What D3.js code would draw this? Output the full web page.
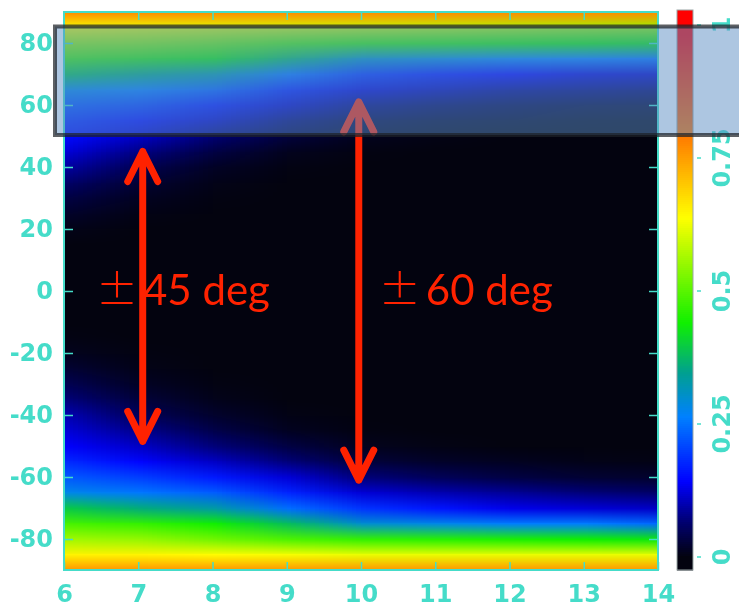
<!DOCTYPE html>
<html>
<head>
<meta charset="utf-8">
<script src="https://cdn.jsdelivr.net/npm/d3@7"></script>
<style>
  body { margin: 0; background: #fff; }
  #wrap { position: relative; width: 739px; height: 605px; }
  #wrap canvas, #wrap svg { position: absolute; left: 0; top: 0; }
</style>
</head>
<body>
<div id="wrap">
  <canvas id="heat" width="739" height="605"></canvas>
  <svg id="chart" width="739" height="605"></svg>
</div>
<script>
// grid columns (x) and rows (latitude, deg)
const xCols = [6, 7, 8, 9, 10, 11, 12, 13, 14]
const latRows = [90, 85, 80, 75, 70, 65, 60, 55, 50, 45, 40, 35, 30, 25, 20, 15, 10, 5, 0,
                 -5, -10, -15, -20, -25, -30, -35, -40, -45, -50, -55, -60, -65, -70, -75, -80, -85, -90]

// values, one row per latitude, one entry per x column
const values = [
  [0.77, 0.77, 0.77, 0.77, 0.77, 0.77, 0.77, 0.77, 0.77],
  [0.63, 0.62, 0.61, 0.60, 0.59, 0.58, 0.57, 0.56, 0.55],
  [0.55, 0.54, 0.52, 0.49, 0.47, 0.46, 0.45, 0.44, 0.43],
  [0.48, 0.46, 0.44, 0.38, 0.31, 0.29, 0.27, 0.26, 0.25],
  [0.39, 0.36, 0.33, 0.25, 0.19, 0.16, 0.14, 0.12, 0.11],
  [0.28, 0.26, 0.23, 0.17, 0.12, 0.10, 0.08, 0.07, 0.06],
  [0.22, 0.20, 0.16, 0.11, 0.07, 0.05, 0.035, 0.025, 0.02],
  [0.18, 0.15, 0.11, 0.065, 0.03, 0.018, 0.012, 0.006, 0.004],
  [0.15, 0.11, 0.065, 0.03, 0.01, 0.004, 0, 0, 0],
  [0.12, 0.075, 0.035, 0.01, 0.002, 0, 0, 0, 0],
  [0.09, 0.045, 0.015, 0.003, 0, 0, 0, 0, 0],
  [0.06, 0.025, 0.006, 0, 0, 0, 0, 0, 0],
  [0.035, 0.012, 0.002, 0, 0, 0, 0, 0, 0],
  [0.018, 0.004, 0, 0, 0, 0, 0, 0, 0],
  [0.006, 0, 0, 0, 0, 0, 0, 0, 0],
  [0, 0, 0, 0, 0, 0, 0, 0, 0],
  [0, 0, 0, 0, 0, 0, 0, 0, 0],
  [0, 0, 0, 0, 0, 0, 0, 0, 0],
  [0, 0, 0, 0, 0, 0, 0, 0, 0],
  [0, 0, 0, 0, 0, 0, 0, 0, 0],
  [0, 0, 0, 0, 0, 0, 0, 0, 0],
  [0.003, 0, 0, 0, 0, 0, 0, 0, 0],
  [0.01, 0.002, 0, 0, 0, 0, 0, 0, 0],
  [0.025, 0.006, 0, 0, 0, 0, 0, 0, 0],
  [0.045, 0.015, 0.003, 0, 0, 0, 0, 0, 0],
  [0.07, 0.03, 0.008, 0, 0, 0, 0, 0, 0],
  [0.10, 0.05, 0.02, 0.004, 0, 0, 0, 0, 0],
  [0.12, 0.08, 0.04, 0.012, 0.002, 0, 0, 0, 0],
  [0.14, 0.11, 0.07, 0.035, 0.01, 0.004, 0, 0, 0],
  [0.18, 0.145, 0.11, 0.07, 0.03, 0.018, 0.012, 0.006, 0.004],
  [0.225, 0.20, 0.165, 0.12, 0.07, 0.05, 0.035, 0.025, 0.02],
  [0.28, 0.255, 0.23, 0.175, 0.12, 0.10, 0.085, 0.07, 0.06],
  [0.395, 0.36, 0.33, 0.245, 0.19, 0.16, 0.13, 0.12, 0.11],
  [0.485, 0.47, 0.44, 0.38, 0.30, 0.28, 0.26, 0.26, 0.24],
  [0.56, 0.55, 0.52, 0.49, 0.47, 0.46, 0.45, 0.44, 0.43],
  [0.65, 0.65, 0.64, 0.63, 0.62, 0.62, 0.62, 0.62, 0.62],
  [0.76, 0.76, 0.76, 0.76, 0.76, 0.76, 0.76, 0.76, 0.76]
]

const xTicks = [6, 7, 8, 9, 10, 11, 12, 13, 14]
const yTicks = [-80, -60, -40, -20, 0, 20, 40, 60, 80]
const cbTicks = [0, 0.25, 0.5, 0.75, 1]
const cbTickLabels = ['0', '0.25', '0.5', '0.75', '1']

// colormap
const cmapStops = [0, 0.064, 0.141, 0.263, 0.346, 0.44, 0.637, 0.784, 0.98]
const cmapColors = ['#03030f', '#00006e', '#0000ff', '#0080ff', '#00a090', '#10f000', '#ffff00', '#ff8000', '#ff0000']

// annotations (data units)
const arrows = [
  {x: 7.06, top: 45, bottom: -48.5},
  {x: 9.97, top: 61, bottom: -61}
]
const notes = [
  {x: 6.43, lat: -4.5, sign: '±', text: '45 deg'},
  {x: 10.24, lat: -4.5, sign: '±', text: '60 deg'}
]

const W = 739, H = 605
const margin = {top: 12, right: 81, bottom: 35, left: 64}
const tq = '#45dcc9'

const x = d3.scaleLinear().domain([6, 14]).range([margin.left, W - margin.right])
const y = d3.scaleLinear().domain([-90, 90]).range([H - margin.bottom, margin.top])
const color = d3.scaleLinear().domain(cmapStops).range(cmapColors).clamp(true)

// ---- heatmap on canvas (padded by one cell on each side, smoothed) ----
const nx = xCols.length, ny = latRows.length
const small = document.createElement('canvas')
small.width = nx + 2
small.height = ny + 2
const sctx = small.getContext('2d')
for (let j = -1; j <= ny; j++) {
  for (let i = -1; i <= nx; i++) {
    const jj = Math.max(0, Math.min(ny - 1, j))
    const ii = Math.max(0, Math.min(nx - 1, i))
    sctx.fillStyle = color(values[jj][ii])
    sctx.fillRect(i + 1, j + 1, 1, 1)
  }
}
const dx = x(xCols[1]) - x(xCols[0])
const dy = y(latRows[1]) - y(latRows[0])
const ctx = document.getElementById('heat').getContext('2d')
ctx.save()
ctx.beginPath()
ctx.rect(x(6), y(90), x(14) - x(6), y(-90) - y(90))
ctx.clip()
ctx.imageSmoothingEnabled = true
ctx.imageSmoothingQuality = 'low'
ctx.drawImage(small, x(xCols[0]) - 1.5 * dx, y(latRows[0]) - 1.5 * dy, (nx + 2) * dx, (ny + 2) * dy)
ctx.restore()

// ---- svg layer ----
const svg = d3.select('#chart')

const styleAxis = g => {
  g.select('.domain').remove()
  g.selectAll('line').attr('stroke', tq).attr('stroke-width', 1.5)
  g.selectAll('text')
    .attr('fill', tq)
    .attr('font-family', 'DejaVu Sans')
    .attr('font-weight', 'bold')
    .attr('font-size', 24)
}

svg.append('g')
  .attr('transform', `translate(${x(6)},0)`)
  .call(d3.axisLeft(y).tickValues(yTicks).tickSize(-9).tickPadding(11).tickFormat(d => String(d)))
  .call(styleAxis)

svg.append('g')
  .attr('transform', `translate(${x(14)},0)`)
  .call(d3.axisRight(y).tickValues(yTicks).tickSize(-9).tickFormat(''))
  .call(styleAxis)

svg.append('g')
  .attr('transform', `translate(0,${y(-90)})`)
  .call(d3.axisBottom(x).tickValues(xTicks).tickSize(-8).tickPadding(15).tickFormat(d => String(d)))
  .call(styleAxis)

svg.append('g')
  .attr('transform', `translate(0,${y(90)})`)
  .call(d3.axisTop(x).tickValues(xTicks.slice(1, -1)).tickSize(-8).tickFormat(''))
  .call(styleAxis)

// frame
svg.append('rect')
  .attr('x', x(6)).attr('y', y(90))
  .attr('width', x(14) - x(6)).attr('height', y(-90) - y(90))
  .attr('fill', 'none').attr('stroke', tq).attr('stroke-width', 2)

// ---- colorbar ----
const cbX = 677, cbW = 16, cbTop = 10, cbBottom = 570
const cb = d3.scaleLinear().domain([0, 1]).range([557, 25])
const cbSteps = d3.range(cbTop, cbBottom, 2)
svg.append('g').selectAll('rect')
  .data(cbSteps)
  .join('rect')
  .attr('x', cbX).attr('y', d => d)
  .attr('width', cbW).attr('height', 2.5)
  .attr('fill', d => color(cb.invert(d + 1)))
svg.append('rect')
  .attr('x', cbX).attr('y', cbTop).attr('width', cbW).attr('height', cbBottom - cbTop)
  .attr('fill', 'none').attr('stroke', '#9aa6a6').attr('stroke-width', 1)

const cbAxis = svg.append('g')
cbAxis.selectAll('line')
  .data(cbTicks)
  .join('line')
  .attr('x1', cbX + cbW + 4).attr('x2', cbX + cbW + 8)
  .attr('y1', d => cb(d)).attr('y2', d => cb(d))
  .attr('stroke', tq).attr('stroke-width', 1.5)
cbAxis.selectAll('text')
  .data(cbTicks)
  .join('text')
  .attr('transform', d => `translate(${cbX + cbW + 37},${cb(d)}) rotate(-90)`)
  .attr('text-anchor', 'middle')
  .attr('fill', tq)
  .attr('font-family', 'DejaVu Sans')
  .attr('font-weight', 'bold')
  .attr('font-size', 24)
  .text((d, i) => cbTickLabels[i])

// ---- arrows ----
const red = '#ff2200'
svg.append('g').selectAll('path')
  .data(arrows)
  .join('path')
  .attr('d', d => {
    const px = x(d.x), t = y(d.top), b = y(d.bottom)
    return `M${px},${t}L${px},${b}` +
      `M${px - 15},${t + 30}L${px},${t}L${px + 15},${t + 30}` +
      `M${px - 15},${b - 30}L${px},${b}L${px + 15},${b - 30}`
  })
  .attr('fill', 'none')
  .attr('stroke', red)
  .attr('stroke-width', 7)
  .attr('stroke-linecap', 'round')
  .attr('stroke-linejoin', 'round')

// ---- text labels ----
const noteText = svg.append('g').selectAll('text')
  .data(notes)
  .join('text')
  .attr('x', d => x(d.x))
  .attr('y', d => y(d.lat))
  .attr('fill', red)
  .attr('font-family', 'Lato, "Open Sans", sans-serif')
  .attr('font-size', 42)
noteText.append('tspan')
  .attr('font-family', '"Noto Sans CJK JP"')
  .attr('font-weight', 300)
  .style('font-feature-settings', '"fwid"')
  .text(d => d.sign)
noteText.append('tspan')
  .attr('dx', 5)
  .text(d => d.text)

// ---- translucent highlight box ----
svg.append('rect')
  .attr('x', 55).attr('y', 26.5)
  .attr('width', 720).attr('height', 108.5)
  .attr('fill', 'rgba(92,142,196,0.5)')
  .attr('stroke', 'rgba(30,34,40,0.72)')
  .attr('stroke-width', 4)
</script>
</body>
</html>
